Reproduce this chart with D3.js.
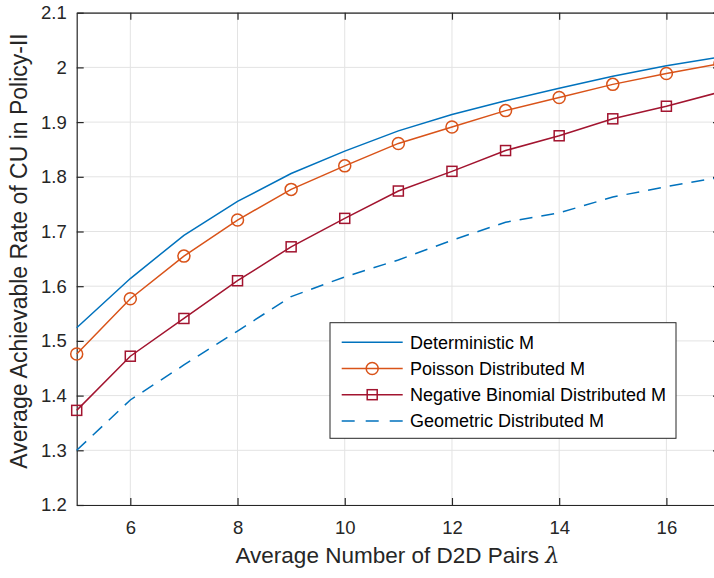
<!DOCTYPE html>
<html>
<head>
<meta charset="UTF-8" />
<title>Policy-II rate</title>
<script src="https://d3js.org/d3.v7.min.js"></script>
<style>
body { margin: 0; background: #fff; }
svg { display: block; font-family: "Liberation Sans", Arial, sans-serif; }
.grid line { stroke: #e3e3e3; stroke-width: 1; }
.tick text { fill: #262626; }
</style>
</head>
<body>
<div id="chart"></div>
<script>
// data
var lambdas = [5, 6, 7, 8, 9, 10, 11, 12, 13, 14, 15, 16, 17];
var deterministic = [1.524, 1.614, 1.693, 1.755, 1.806, 1.847, 1.884, 1.914, 1.939, 1.962, 1.984, 2.003, 2.019];
var poisson = [1.476, 1.577, 1.655, 1.721, 1.777, 1.820, 1.861, 1.891, 1.921, 1.945, 1.969, 1.989, 2.007];
var negBinomial = [1.373, 1.472, 1.541, 1.610, 1.672, 1.724, 1.774, 1.810, 1.848, 1.875, 1.906, 1.929, 1.955];
var geometric = [1.300, 1.392, 1.456, 1.518, 1.581, 1.617, 1.648, 1.684, 1.717, 1.734, 1.763, 1.782, 1.799];
var xTicks = [6, 8, 10, 12, 14, 16];
var yTicks = [1.2, 1.3, 1.4, 1.5, 1.6, 1.7, 1.8, 1.9, 2, 2.1];
var seriesNames = ['Deterministic M', 'Poisson Distributed M', 'Negative Binomial Distributed M', 'Geometric Distributed M'];

var width = 714, height = 578;
var m = { left: 76.7, right: 720, top: 12.7, bottom: 505 };

var svg = d3.select('#chart').append('svg')
    .attr('width', width)
    .attr('height', height);

var x = d3.scaleLinear().domain([5, 17]).range([m.left, m.right]);
var y = d3.scaleLinear().domain([1.2, 2.1]).range([m.bottom, m.top]);

// grid
var grid = svg.append('g').attr('class', 'grid');
grid.selectAll('.gx').data(xTicks).enter().append('line')
    .attr('x1', function(d) { return x(d); }).attr('x2', function(d) { return x(d); })
    .attr('y1', m.top).attr('y2', m.bottom);
grid.selectAll('.gy').data(yTicks).enter().append('line')
    .attr('y1', function(d) { return y(d); }).attr('y2', function(d) { return y(d); })
    .attr('x1', m.left).attr('x2', m.right);

// axes (MATLAB box style, inward ticks)
function styleAxis(g) {
    g.select('.domain').attr('stroke', '#262626').attr('stroke-width', 1.2);
    g.selectAll('.tick line').attr('stroke', '#262626').attr('stroke-width', 1.2);
    g.selectAll('.tick text').attr('font-size', '18.5px');
}
svg.append('g').attr('transform', 'translate(0,' + m.bottom + ')')
    .call(d3.axisBottom(x).tickValues(xTicks).tickSizeInner(-7).tickSizeOuter(0).tickPadding(16))
    .call(styleAxis);
svg.append('g').attr('transform', 'translate(0,' + m.top + ')')
    .call(d3.axisTop(x).tickValues(xTicks).tickSizeInner(-7).tickSizeOuter(0).tickFormat(''))
    .call(styleAxis);
svg.append('g').attr('transform', 'translate(' + m.left + ',0)')
    .call(d3.axisLeft(y).tickValues(yTicks).tickSizeInner(-7).tickSizeOuter(0).tickPadding(10).tickFormat(d3.format('~g')))
    .call(styleAxis);
svg.append('g').attr('transform', 'translate(' + m.right + ',0)')
    .call(d3.axisRight(y).tickValues(yTicks).tickSizeInner(-7).tickSizeOuter(0).tickFormat(''))
    .call(styleAxis);

// axis labels
svg.append('text')
    .attr('x', 397.5).attr('y', 563)
    .attr('text-anchor', 'middle').attr('font-size', '22.5px').attr('fill', '#262626')
    .html('Average Number of D2D Pairs <tspan font-family="DejaVu Serif" font-style="italic">λ</tspan>');
svg.append('text')
    .attr('transform', 'translate(27,251) rotate(-90)')
    .attr('text-anchor', 'middle').attr('font-size', '23px').attr('fill', '#262626')
    .text('Average Achievable Rate of CU in Policy-II');

// series
var colors = ['#0072BD', '#D95319', '#A2142F', '#0072BD'];
var dashes = [null, null, null, '13,9'];
var markers = [null, 'circle', 'square', null];
var all = [deterministic, poisson, negBinomial, geometric];

var line = d3.line()
    .x(function(d, i) { return x(lambdas[i]); })
    .y(function(d) { return y(d); });

function drawMarker(g, type, cx, cy, color) {
    if (type === 'circle') {
        g.append('circle').attr('cx', cx).attr('cy', cy).attr('r', 6)
            .attr('fill', 'none').attr('stroke', color).attr('stroke-width', 1.5);
    } else if (type === 'square') {
        g.append('rect').attr('x', cx - 5).attr('y', cy - 5).attr('width', 10).attr('height', 10)
            .attr('fill', 'none').attr('stroke', color).attr('stroke-width', 1.5);
    }
}

all.forEach(function(vals, k) {
    svg.append('path')
        .attr('d', line(vals))
        .attr('fill', 'none')
        .attr('stroke', colors[k])
        .attr('stroke-width', 1.5)
        .attr('stroke-dasharray', dashes[k]);
    if (markers[k]) {
        var mg = svg.append('g');
        vals.forEach(function(v, i) {
            drawMarker(mg, markers[k], x(lambdas[i]), y(v), colors[k]);
        });
    }
});

// legend
var lg = svg.append('g').attr('transform', 'translate(330,322.7)');
lg.append('rect').attr('width', 346).attr('height', 115.6)
    .attr('fill', '#fff').attr('stroke', '#262626').attr('stroke-width', 1);
seriesNames.forEach(function(name, k) {
    var yy = 19.6 + k * 26.2;
    lg.append('line').attr('x1', 11.7).attr('x2', 72.7).attr('y1', yy).attr('y2', yy)
        .attr('stroke', colors[k]).attr('stroke-width', 1.5)
        .attr('stroke-dasharray', k === 3 ? '13,11' : null);
    drawMarker(lg, markers[k], 42.2, yy, colors[k]);
    lg.append('text').attr('x', 80).attr('y', yy + 6.5)
        .attr('font-size', '18px').attr('fill', '#000')
        .text(name);
});
</script>
</body>
</html>
